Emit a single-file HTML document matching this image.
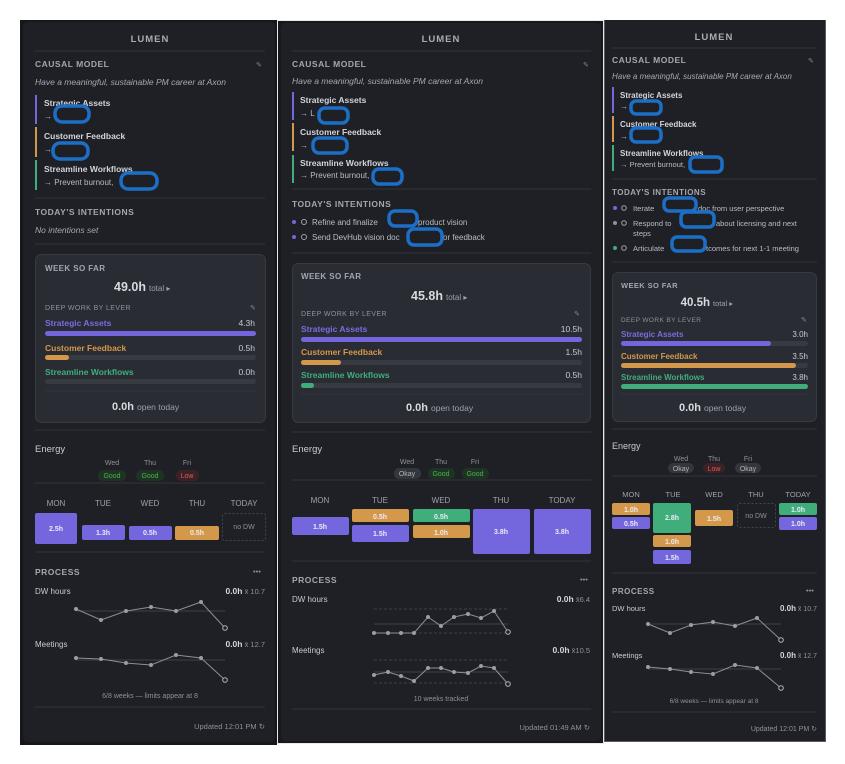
<!DOCTYPE html>
<html><head><meta charset="utf-8"><style>
html,body{margin:0;padding:0;background:#fff;width:845px;height:764px;overflow:hidden}
svg{display:block;font-family:"Liberation Sans",sans-serif}
text{white-space:pre}
.h{font-size:8.5px;font-weight:bold;fill:#a3a6b0;letter-spacing:.5px}
.lg{font-size:9.5px;font-weight:bold;fill:#a9acb6;letter-spacing:1px}
.it{font-size:8.5px;font-style:italic;fill:#a6a9b3}
.ln{font-size:8.5px;font-weight:bold;fill:#d2d4da}
.sm{font-size:8px;fill:#b9bcc5}
.dim{font-size:7px;fill:#858892}
.dv{stroke:#31333b;stroke-width:1}
.sc{fill:#1f2026;stroke:#1b6fc6;stroke-width:3.5}
.bx{fill:#2a2c33;stroke:#383a42}
.wk{font-size:8px;font-weight:bold;fill:#a3a6b0;letter-spacing:.4px}
.big{font-size:12.5px;font-weight:bold;fill:#d8dae0}
.tt{font-size:8px;fill:#9ea1ab}
.dl{font-size:7px;fill:#8e919b;letter-spacing:.4px}
.lv{font-size:8.5px;font-weight:bold}
.val{font-size:8.5px;fill:#c8cad1}
.en{font-size:9.5px;fill:#c9cbd2}
.dy{font-size:7px;fill:#8e919b}
.dh{font-size:8px;fill:#9ea1ab}
.bl{font-size:7px;font-weight:bold;fill:#eceaf8}
.pr{font-size:8.5px;font-weight:bold;fill:#a3a6b0;letter-spacing:.5px}
.pl{font-size:8px;fill:#c9cbd2}
.pv{font-size:8.5px;font-weight:bold;fill:#d2d4da}
.pm{font-size:7.5px;fill:#8e919b}
.sp{fill:none;stroke:#8c8f99;stroke-width:1}
.ml{stroke:#3e4049;stroke-width:1}
.ds{stroke:#3e4049;stroke-width:1;stroke-dasharray:3 2}
.up{font-size:7.5px;fill:#8e919b}
</style></head><body>
<svg width="845" height="764" viewBox="0 0 845 764" xml:space="preserve">
<rect x="20" y="20" width="257" height="725" fill="#16171b"/>
<rect x="23" y="22" width="252" height="720" rx="5" fill="#1f2026"/>
<rect x="277" y="20" width="327" height="724" fill="#e8e8ea"/>
<rect x="278" y="21" width="325" height="722" fill="#17181c"/>
<rect x="281" y="23" width="320" height="718" rx="5" fill="#1f2026"/>
<rect x="604" y="20" width="222" height="722" fill="#5a5c63"/>
<rect x="605" y="20" width="220" height="721" fill="#1f2026"/>

<!-- PANEL 1 -->
<text x="150" y="42" text-anchor="middle" class="lg">LUMEN</text>
<line x1="35" y1="51" x2="265" y2="51" class="dv"/>
<text x="35" y="67" class="h">CAUSAL MODEL</text>
<text x="256" y="67" class="dim">✎</text>
<text x="35" y="85" class="it">Have a meaningful, sustainable PM career at Axon</text>
<rect x="35" y="95" width="2" height="29" fill="#7466dc"/>
<text x="44" y="106" class="ln">Strategic Assets</text><text x="44" y="119" class="sm">→</text>
<rect x="35" y="127" width="2" height="30" fill="#d4984a"/>
<text x="44" y="139" class="ln">Customer Feedback</text><text x="44" y="152" class="sm">→</text>
<rect x="35" y="160" width="2" height="30" fill="#3fae7a"/>
<text x="44" y="172" class="ln">Streamline Workflows</text><text x="44" y="185" class="sm">→ Prevent burnout,</text>
<rect x="55" y="106" width="34" height="16" rx="7" class="sc"/>
<rect x="53" y="143" width="35" height="16" rx="7" class="sc"/>
<rect x="121" y="173" width="36" height="16" rx="7" class="sc"/>
<line x1="35" y1="198" x2="265" y2="198" class="dv"/>
<text x="35" y="215" class="h">TODAY'S INTENTIONS</text>
<text x="35" y="233" class="it">No intentions set</text>
<line x1="35" y1="244" x2="265" y2="244" class="dv"/>
<rect x="35.5" y="254.5" width="230" height="168" rx="6" class="bx"/>
<text x="45" y="271" class="wk">WEEK SO FAR</text>
<text x="146" y="291" text-anchor="end" class="big">49.0h</text><text x="149" y="291" class="tt">total ▸</text>
<text x="45" y="310" class="dl">DEEP WORK BY LEVER</text><text x="250" y="310" class="dim">✎</text>
<text x="45" y="326" class="lv" fill="#7a6ce0">Strategic Assets</text><text x="255" y="326" text-anchor="end" class="val">4.3h</text>
<rect x="45" y="331" width="211" height="5" rx="2.5" fill="#7466dc"/>
<text x="45" y="351" class="lv" fill="#d4984a">Customer Feedback</text><text x="255" y="351" text-anchor="end" class="val">0.5h</text>
<rect x="45" y="355" width="211" height="5" rx="2.5" fill="#383a42"/><rect x="45" y="355" width="24" height="5" rx="2.5" fill="#d4984a"/>
<text x="45" y="375" class="lv" fill="#3fae7a">Streamline Workflows</text><text x="255" y="375" text-anchor="end" class="val">0.0h</text>
<rect x="45" y="379" width="211" height="5" rx="2.5" fill="#383a42"/>
<line x1="45" y1="391" x2="256" y2="391" class="dv"/>
<text x="134" y="410" text-anchor="end" class="big" style="font-size:11px">0.0h</text><text x="137" y="410" class="tt" style="font-size:8.5px">open today</text>
<line x1="35" y1="430" x2="265" y2="430" class="dv"/>
<text x="35" y="452" class="en">Energy</text>
<text x="112" y="465" text-anchor="middle" class="dy">Wed</text><text x="150" y="465" text-anchor="middle" class="dy">Thu</text><text x="187" y="465" text-anchor="middle" class="dy">Fri</text>
<rect x="98" y="470" width="28" height="11" rx="5" fill="#1e3324"/><text x="112" y="478" text-anchor="middle" style="font-size:7px;fill:#4cb050">Good</text>
<rect x="136" y="470" width="28" height="11" rx="5" fill="#1e3324"/><text x="150" y="478" text-anchor="middle" style="font-size:7px;fill:#4cb050">Good</text>
<rect x="176" y="470" width="23" height="11" rx="5" fill="#3a2227"/><text x="187" y="478" text-anchor="middle" style="font-size:7px;fill:#e05a5a">Low</text>
<line x1="35" y1="483" x2="265" y2="483" class="dv"/>
<text x="56" y="506" text-anchor="middle" class="dh">MON</text><text x="103" y="506" text-anchor="middle" class="dh">TUE</text><text x="150" y="506" text-anchor="middle" class="dh">WED</text><text x="197" y="506" text-anchor="middle" class="dh">THU</text><text x="244" y="506" text-anchor="middle" class="dh">TODAY</text>
<rect x="35" y="513" width="42" height="31" rx="2" fill="#7466dc"/><text x="56" y="531" text-anchor="middle" class="bl">2.5h</text>
<rect x="82" y="525" width="43" height="15" rx="2" fill="#7466dc"/><text x="103" y="535" text-anchor="middle" class="bl">1.3h</text>
<rect x="129" y="526" width="43" height="14" rx="2" fill="#7466dc"/><text x="150" y="535" text-anchor="middle" class="bl">0.5h</text>
<rect x="175" y="526" width="44" height="14" rx="2" fill="#d4984a"/><text x="197" y="535" text-anchor="middle" class="bl">0.5h</text>
<rect x="222.5" y="513.5" width="43" height="27" rx="2" fill="none" stroke="#44464e" stroke-dasharray="2 2"/><text x="244" y="529" text-anchor="middle" class="dy">no DW</text>
<line x1="35" y1="552" x2="265" y2="552" class="dv"/>
<text x="35" y="575" class="pr">PROCESS</text><text x="257" y="574" text-anchor="middle" class="pm">•••</text>
<text x="35" y="594" class="pl">DW hours</text><text x="265" y="594" text-anchor="end"><tspan class="pv">0.0h</tspan><tspan class="pm"> x̄ 10.7</tspan></text>
<line x1="76" y1="611" x2="225" y2="611" class="ml"/>
<polyline class="sp" points="76,609 101,620 126,611 151,607 176,611 201,602 225,628"/>
<g fill="#9a9da7"><circle cx="76" cy="609" r="2"/><circle cx="101" cy="620" r="2"/><circle cx="126" cy="611" r="2"/><circle cx="151" cy="607" r="2"/><circle cx="176" cy="611" r="2"/><circle cx="201" cy="602" r="2"/></g>
<circle cx="225" cy="628" r="2.3" fill="#1f2026" stroke="#b0b3bc"/>
<text x="35" y="647" class="pl">Meetings</text><text x="265" y="647" text-anchor="end"><tspan class="pv">0.0h</tspan><tspan class="pm"> x̄ 12.7</tspan></text>
<line x1="76" y1="660" x2="225" y2="660" class="ml"/>
<polyline class="sp" points="76,658 101,659 126,663 151,665 176,655 201,658 225,680"/>
<g fill="#9a9da7"><circle cx="76" cy="658" r="2"/><circle cx="101" cy="659" r="2"/><circle cx="126" cy="663" r="2"/><circle cx="151" cy="665" r="2"/><circle cx="176" cy="655" r="2"/><circle cx="201" cy="658" r="2"/></g>
<circle cx="225" cy="680" r="2.3" fill="#1f2026" stroke="#b0b3bc"/>
<text x="150" y="698" text-anchor="middle" class="pm" style="font-size:7px">6/8 weeks — limits appear at 8</text>
<line x1="35" y1="707" x2="265" y2="707" class="dv"/>
<text x="265" y="729" text-anchor="end" class="up">Updated 12:01 PM ↻</text>

<!-- PANEL 2 -->
<text x="441" y="42" text-anchor="middle" class="lg">LUMEN</text>
<line x1="292" y1="51" x2="591" y2="51" class="dv"/>
<text x="292" y="67" class="h">CAUSAL MODEL</text><text x="583" y="67" class="dim">✎</text>
<text x="292" y="84" class="it">Have a meaningful, sustainable PM career at Axon</text>
<rect x="292" y="92" width="2" height="28" fill="#7466dc"/>
<text x="300" y="103" class="ln">Strategic Assets</text><text x="300" y="116" class="sm">→ L</text>
<rect x="292" y="123" width="2" height="28" fill="#d4984a"/>
<text x="300" y="135" class="ln">Customer Feedback</text><text x="300" y="148" class="sm">→</text>
<rect x="292" y="155" width="2" height="28" fill="#3fae7a"/>
<text x="300" y="166" class="ln">Streamline Workflows</text><text x="300" y="178" class="sm">→ Prevent burnout,</text>
<rect x="319" y="108" width="29" height="15" rx="6" class="sc"/>
<rect x="313" y="138" width="34" height="15" rx="6" class="sc"/>
<rect x="373" y="169" width="29" height="15" rx="6" class="sc"/>
<line x1="292" y1="189" x2="591" y2="189" class="dv"/>
<text x="292" y="207" class="h">TODAY'S INTENTIONS</text>
<circle cx="294" cy="222" r="2" fill="#7466dc"/><circle cx="304" cy="222" r="2.5" fill="none" stroke="#9ea1ab"/>
<text x="312" y="225" class="sm">Refine and finalize</text><text x="418" y="225" class="sm">product vision</text>
<circle cx="294" cy="237" r="2" fill="#7466dc"/><circle cx="304" cy="237" r="2.5" fill="none" stroke="#9ea1ab"/>
<text x="312" y="240" class="sm">Send DevHub vision doc</text><text x="443" y="240" class="sm">or feedback</text>
<rect x="389" y="211" width="28" height="15" rx="6" class="sc"/>
<rect x="408" y="229" width="34" height="16" rx="6" class="sc"/>
<line x1="292" y1="253" x2="591" y2="253" class="dv"/>
<rect x="292.5" y="263.5" width="298" height="159" rx="6" class="bx"/>
<text x="301" y="279" class="wk">WEEK SO FAR</text>
<text x="443" y="300" text-anchor="end" class="big">45.8h</text><text x="446" y="300" class="tt">total ▸</text>
<text x="301" y="316" class="dl">DEEP WORK BY LEVER</text><text x="574" y="316" class="dim">✎</text>
<text x="301" y="332" class="lv" fill="#7a6ce0">Strategic Assets</text><text x="582" y="332" text-anchor="end" class="val">10.5h</text>
<rect x="301" y="337" width="281" height="5" rx="2.5" fill="#7466dc"/>
<text x="301" y="355" class="lv" fill="#d4984a">Customer Feedback</text><text x="582" y="355" text-anchor="end" class="val">1.5h</text>
<rect x="301" y="360" width="281" height="5" rx="2.5" fill="#383a42"/><rect x="301" y="360" width="40" height="5" rx="2.5" fill="#d4984a"/>
<text x="301" y="378" class="lv" fill="#3fae7a">Streamline Workflows</text><text x="582" y="378" text-anchor="end" class="val">0.5h</text>
<rect x="301" y="383" width="281" height="5" rx="2.5" fill="#383a42"/><rect x="301" y="383" width="13" height="5" rx="2.5" fill="#3fae7a"/>
<line x1="301" y1="394" x2="582" y2="394" class="dv"/>
<text x="428" y="411" text-anchor="end" class="big" style="font-size:11px">0.0h</text><text x="431" y="411" class="tt" style="font-size:8.5px">open today</text>
<line x1="292" y1="432" x2="591" y2="432" class="dv"/>
<text x="292" y="452" class="en">Energy</text>
<text x="407" y="464" text-anchor="middle" class="dy">Wed</text><text x="441" y="464" text-anchor="middle" class="dy">Thu</text><text x="475" y="464" text-anchor="middle" class="dy">Fri</text>
<rect x="394" y="468" width="27" height="11" rx="5" fill="#34363d"/><text x="407" y="476" text-anchor="middle" style="font-size:7px;fill:#b0b3bc">Okay</text>
<rect x="428" y="468" width="27" height="11" rx="5" fill="#1e3324"/><text x="441" y="476" text-anchor="middle" style="font-size:7px;fill:#4cb050">Good</text>
<rect x="462" y="468" width="27" height="11" rx="5" fill="#1e3324"/><text x="475" y="476" text-anchor="middle" style="font-size:7px;fill:#4cb050">Good</text>
<line x1="292" y1="480" x2="591" y2="480" class="dv"/>
<text x="320" y="503" text-anchor="middle" class="dh">MON</text><text x="380" y="503" text-anchor="middle" class="dh">TUE</text><text x="441" y="503" text-anchor="middle" class="dh">WED</text><text x="501" y="503" text-anchor="middle" class="dh">THU</text><text x="562" y="503" text-anchor="middle" class="dh">TODAY</text>
<rect x="292" y="517" width="57" height="18" rx="2" fill="#7466dc"/><text x="320" y="529" text-anchor="middle" class="bl">1.5h</text>
<rect x="352" y="509" width="57" height="13" rx="2" fill="#d4984a"/><text x="380" y="519" text-anchor="middle" class="bl">0.5h</text>
<rect x="352" y="525" width="57" height="17" rx="2" fill="#7466dc"/><text x="380" y="536" text-anchor="middle" class="bl">1.5h</text>
<rect x="413" y="509" width="57" height="13" rx="2" fill="#3fae7a"/><text x="441" y="519" text-anchor="middle" class="bl">0.5h</text>
<rect x="413" y="525" width="57" height="13" rx="2" fill="#d4984a"/><text x="441" y="535" text-anchor="middle" class="bl">1.0h</text>
<rect x="473" y="509" width="57" height="45" rx="2" fill="#7466dc"/><text x="501" y="534" text-anchor="middle" class="bl">3.8h</text>
<rect x="534" y="509" width="57" height="45" rx="2" fill="#7466dc"/><text x="562" y="534" text-anchor="middle" class="bl">3.8h</text>
<line x1="292" y1="561" x2="591" y2="561" class="dv"/>
<text x="292" y="583" class="pr">PROCESS</text><text x="584" y="582" text-anchor="middle" class="pm">•••</text>
<text x="292" y="602" class="pl">DW hours</text><text x="590" y="602" text-anchor="end"><tspan class="pv">0.0h</tspan><tspan class="pm"> x̄6.4</tspan></text>
<line x1="374" y1="609" x2="508" y2="609" class="ds"/><line x1="374" y1="633" x2="508" y2="633" class="ds"/><line x1="374" y1="624" x2="508" y2="624" class="ml"/>
<polyline class="sp" points="374,633 388,633 401,633 414,633 428,617 441,626 454,617 468,614 481,618 494,611 508,632"/>
<g fill="#9a9da7"><circle cx="374" cy="633" r="2"/><circle cx="388" cy="633" r="2"/><circle cx="401" cy="633" r="2"/><circle cx="414" cy="633" r="2"/><circle cx="428" cy="617" r="2"/><circle cx="441" cy="626" r="2"/><circle cx="454" cy="617" r="2"/><circle cx="468" cy="614" r="2"/><circle cx="481" cy="618" r="2"/><circle cx="494" cy="611" r="2"/></g>
<circle cx="508" cy="632" r="2.3" fill="#1f2026" stroke="#b0b3bc"/>
<text x="292" y="653" class="pl">Meetings</text><text x="590" y="653" text-anchor="end"><tspan class="pv">0.0h</tspan><tspan class="pm"> x̄10.5</tspan></text>
<line x1="374" y1="660" x2="508" y2="660" class="ds"/><line x1="374" y1="683" x2="508" y2="683" class="ds"/><line x1="374" y1="672" x2="508" y2="672" class="ml"/>
<polyline class="sp" points="374,675 388,672 401,676 414,681 428,668 441,668 454,672 468,673 481,666 494,668 508,684"/>
<g fill="#9a9da7"><circle cx="374" cy="675" r="2"/><circle cx="388" cy="672" r="2"/><circle cx="401" cy="676" r="2"/><circle cx="414" cy="681" r="2"/><circle cx="428" cy="668" r="2"/><circle cx="441" cy="668" r="2"/><circle cx="454" cy="672" r="2"/><circle cx="468" cy="673" r="2"/><circle cx="481" cy="666" r="2"/><circle cx="494" cy="668" r="2"/></g>
<circle cx="508" cy="684" r="2.3" fill="#1f2026" stroke="#b0b3bc"/>
<text x="441" y="701" text-anchor="middle" class="pm" style="font-size:7px">10 weeks tracked</text>
<line x1="292" y1="709" x2="591" y2="709" class="dv"/>
<text x="590" y="730" text-anchor="end" class="up">Updated 01:49 AM ↻</text>

<!-- PANEL 3 -->
<text x="714" y="40" text-anchor="middle" class="lg">LUMEN</text>
<line x1="612" y1="48" x2="817" y2="48" class="dv"/>
<text x="612" y="63" class="h">CAUSAL MODEL</text><text x="808" y="63" class="dim">✎</text>
<text x="612" y="79" class="it" style="font-size:8px">Have a meaningful, sustainable PM career at Axon</text>
<rect x="612" y="87" width="2" height="26" fill="#7466dc"/>
<text x="620" y="98" class="ln" style="font-size:8px">Strategic Assets</text><text x="620" y="109" class="sm">→</text>
<rect x="612" y="116" width="2" height="26" fill="#d4984a"/>
<text x="620" y="127" class="ln" style="font-size:8px">Customer Feedback</text><text x="620" y="139" class="sm">→</text>
<rect x="612" y="145" width="2" height="26" fill="#3fae7a"/>
<text x="620" y="156" class="ln" style="font-size:8px">Streamline Workflows</text><text x="620" y="167" class="sm" style="font-size:7.5px">→ Prevent burnout,</text>
<rect x="631" y="101" width="30" height="13" rx="5" class="sc"/>
<rect x="631" y="128" width="30" height="14" rx="5" class="sc"/>
<rect x="690" y="157" width="32" height="15" rx="5" class="sc"/>
<line x1="612" y1="179" x2="817" y2="179" class="dv"/>
<text x="612" y="195" class="h" style="font-size:8px">TODAY'S INTENTIONS</text>
<circle cx="615" cy="208" r="2" fill="#7466dc"/><circle cx="624" cy="208" r="2.3" fill="none" stroke="#9ea1ab"/>
<text x="633" y="211" class="sm" style="font-size:7.5px">Iterate</text><text x="698" y="211" class="sm" style="font-size:7.5px">doc from user perspective</text>
<circle cx="615" cy="223" r="2" fill="#8e919b"/><circle cx="624" cy="223" r="2.3" fill="none" stroke="#9ea1ab"/>
<text x="633" y="226" class="sm" style="font-size:7.5px">Respond to</text><text x="716" y="226" class="sm" style="font-size:7.5px">about licensing and next</text>
<text x="633" y="236" class="sm" style="font-size:7.5px">steps</text>
<circle cx="615" cy="248" r="2" fill="#3fae7a"/><circle cx="624" cy="248" r="2.3" fill="none" stroke="#9ea1ab"/>
<text x="633" y="251" class="sm" style="font-size:7.5px">Articulate</text><text x="706" y="251" class="sm" style="font-size:7.5px">tcomes for next 1-1 meeting</text>
<rect x="664" y="198" width="32" height="13" rx="5" class="sc"/>
<rect x="681" y="212" width="33" height="15" rx="5" class="sc"/>
<rect x="672" y="237" width="33" height="14" rx="5" class="sc"/>
<line x1="612" y1="262" x2="817" y2="262" class="dv"/>
<rect x="612.5" y="272.5" width="204" height="149" rx="6" class="bx"/>
<text x="621" y="288" class="wk" style="font-size:7.5px">WEEK SO FAR</text>
<text x="710" y="306" text-anchor="end" class="big" style="font-size:11.5px">40.5h</text><text x="713" y="306" class="tt" style="font-size:7.5px">total ▸</text>
<text x="621" y="322" class="dl" style="font-size:6.5px">DEEP WORK BY LEVER</text><text x="801" y="322" class="dim">✎</text>
<text x="621" y="337" class="lv" fill="#7a6ce0" style="font-size:8px">Strategic Assets</text><text x="808" y="337" text-anchor="end" class="val" style="font-size:8px">3.0h</text>
<rect x="621" y="341" width="187" height="5" rx="2.5" fill="#383a42"/><rect x="621" y="341" width="150" height="5" rx="2.5" fill="#7466dc"/>
<text x="621" y="359" class="lv" fill="#d4984a" style="font-size:8px">Customer Feedback</text><text x="808" y="359" text-anchor="end" class="val" style="font-size:8px">3.5h</text>
<rect x="621" y="363" width="187" height="5" rx="2.5" fill="#383a42"/><rect x="621" y="363" width="175" height="5" rx="2.5" fill="#d4984a"/>
<text x="621" y="380" class="lv" fill="#3fae7a" style="font-size:8px">Streamline Workflows</text><text x="808" y="380" text-anchor="end" class="val" style="font-size:8px">3.8h</text>
<rect x="621" y="384" width="187" height="5" rx="2.5" fill="#3fae7a"/>
<line x1="621" y1="394" x2="808" y2="394" class="dv"/>
<text x="701" y="411" text-anchor="end" class="big" style="font-size:11px">0.0h</text><text x="704" y="411" class="tt" style="font-size:8.5px">open today</text>
<line x1="612" y1="429" x2="817" y2="429" class="dv"/>
<text x="612" y="449" class="en" style="font-size:9px">Energy</text>
<text x="681" y="461" text-anchor="middle" class="dy">Wed</text><text x="714" y="461" text-anchor="middle" class="dy">Thu</text><text x="748" y="461" text-anchor="middle" class="dy">Fri</text>
<rect x="668" y="463" width="26" height="10" rx="5" fill="#34363d"/><text x="681" y="471" text-anchor="middle" style="font-size:7px;fill:#b0b3bc">Okay</text>
<rect x="703" y="463" width="22" height="10" rx="5" fill="#3a2227"/><text x="714" y="471" text-anchor="middle" style="font-size:7px;fill:#e05a5a">Low</text>
<rect x="735" y="463" width="26" height="10" rx="5" fill="#34363d"/><text x="748" y="471" text-anchor="middle" style="font-size:7px;fill:#b0b3bc">Okay</text>
<line x1="612" y1="476" x2="817" y2="476" class="dv"/>
<text x="631" y="497" text-anchor="middle" class="dh" style="font-size:7.5px">MON</text><text x="673" y="497" text-anchor="middle" class="dh" style="font-size:7.5px">TUE</text><text x="714" y="497" text-anchor="middle" class="dh" style="font-size:7.5px">WED</text><text x="756" y="497" text-anchor="middle" class="dh" style="font-size:7.5px">THU</text><text x="798" y="497" text-anchor="middle" class="dh" style="font-size:7.5px">TODAY</text>
<rect x="612" y="503" width="38" height="12" rx="2" fill="#d4984a"/><text x="631" y="512" text-anchor="middle" class="bl">1.0h</text>
<rect x="612" y="517" width="38" height="12" rx="2" fill="#7466dc"/><text x="631" y="526" text-anchor="middle" class="bl">0.5h</text>
<rect x="653" y="503" width="38" height="30" rx="2" fill="#3fae7a"/><text x="672" y="520" text-anchor="middle" class="bl">2.8h</text>
<rect x="653" y="535" width="38" height="12" rx="2" fill="#d4984a"/><text x="672" y="544" text-anchor="middle" class="bl">1.0h</text>
<rect x="653" y="550" width="38" height="14" rx="2" fill="#7466dc"/><text x="672" y="560" text-anchor="middle" class="bl">1.5h</text>
<rect x="695" y="510" width="38" height="16" rx="2" fill="#d4984a"/><text x="714" y="521" text-anchor="middle" class="bl">1.5h</text>
<rect x="737.5" y="503.5" width="38" height="24" rx="2" fill="none" stroke="#44464e" stroke-dasharray="2 2"/><text x="756" y="518" text-anchor="middle" class="dy">no DW</text>
<rect x="779" y="503" width="38" height="12" rx="2" fill="#3fae7a"/><text x="798" y="512" text-anchor="middle" class="bl">1.0h</text>
<rect x="779" y="517" width="38" height="13" rx="2" fill="#7466dc"/><text x="798" y="526" text-anchor="middle" class="bl">1.0h</text>
<line x1="612" y1="573" x2="817" y2="573" class="dv"/>
<text x="612" y="594" class="pr" style="font-size:8px">PROCESS</text><text x="810" y="593" text-anchor="middle" class="pm">•••</text>
<text x="612" y="611" class="pl" style="font-size:7.5px">DW hours</text><text x="817" y="611" text-anchor="end"><tspan class="pv" style="font-size:8px">0.0h</tspan><tspan class="pm" style="font-size:7px"> x̄ 10.7</tspan></text>
<line x1="648" y1="624" x2="781" y2="624" class="ml"/>
<polyline class="sp" points="648,624 670,633 691,625 713,622 735,626 757,618 781,640"/>
<g fill="#9a9da7"><circle cx="648" cy="624" r="2"/><circle cx="670" cy="633" r="2"/><circle cx="691" cy="625" r="2"/><circle cx="713" cy="622" r="2"/><circle cx="735" cy="626" r="2"/><circle cx="757" cy="618" r="2"/></g>
<circle cx="781" cy="640" r="2.3" fill="#1f2026" stroke="#b0b3bc"/>
<text x="612" y="658" class="pl" style="font-size:7.5px">Meetings</text><text x="817" y="658" text-anchor="end"><tspan class="pv" style="font-size:8px">0.0h</tspan><tspan class="pm" style="font-size:7px"> x̄ 12.7</tspan></text>
<line x1="648" y1="669" x2="781" y2="669" class="ml"/>
<polyline class="sp" points="648,667 670,669 691,672 713,674 735,665 757,668 781,688"/>
<g fill="#9a9da7"><circle cx="648" cy="667" r="2"/><circle cx="670" cy="669" r="2"/><circle cx="691" cy="672" r="2"/><circle cx="713" cy="674" r="2"/><circle cx="735" cy="665" r="2"/><circle cx="757" cy="668" r="2"/></g>
<circle cx="781" cy="688" r="2.3" fill="#1f2026" stroke="#b0b3bc"/>
<text x="714" y="703" text-anchor="middle" class="pm" style="font-size:6.5px">6/8 weeks — limits appear at 8</text>
<line x1="612" y1="712" x2="817" y2="712" class="dv"/>
<text x="817" y="731" text-anchor="end" class="up" style="font-size:7px">Updated 12:01 PM ↻</text>
</svg>
</body></html>
